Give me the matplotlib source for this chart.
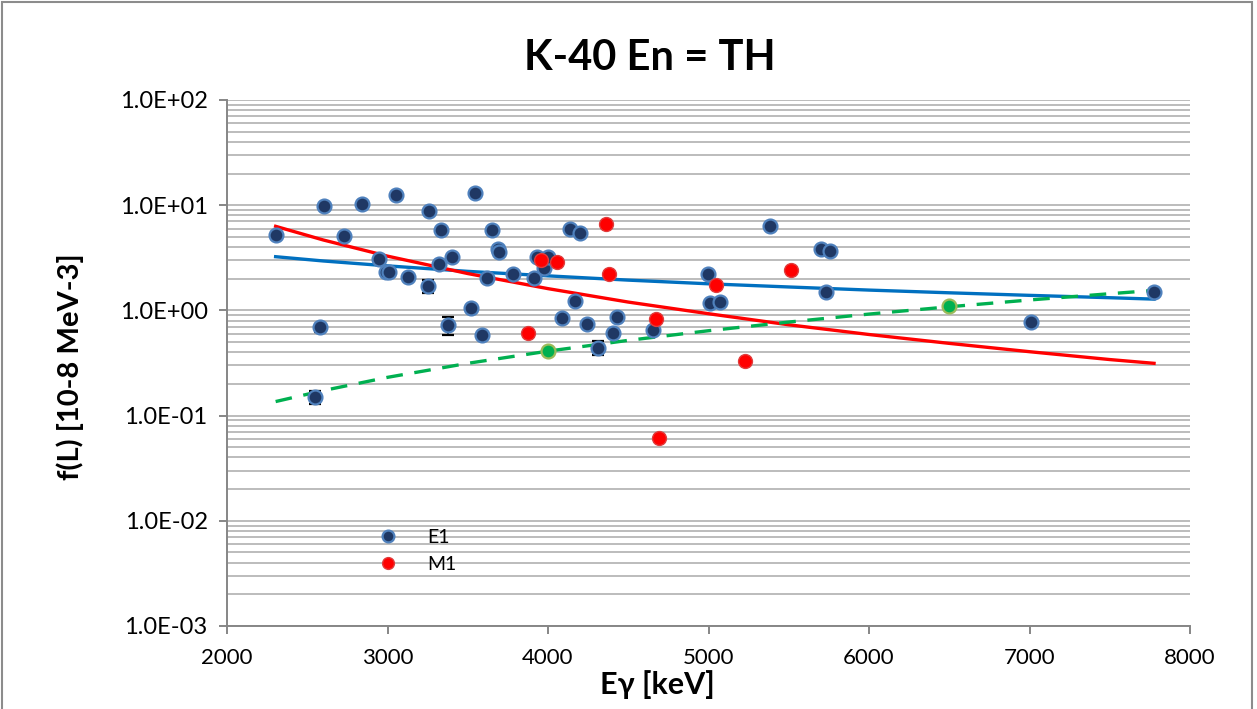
import numpy as np
import matplotlib
matplotlib.use('Agg')
import matplotlib.pyplot as plt
from matplotlib.ticker import LogLocator, FuncFormatter, NullFormatter
from matplotlib.patches import Rectangle

plt.rcParams['font.family'] = ['Lato', 'DejaVu Sans']

# E1 points (keV, f(L)) and error bars (lower, upper)
e1_x = [2305, 2550, 2579, 2606, 2731, 2839, 2945, 2989, 3009, 3053,
        3130, 3254, 3261, 3323, 3333, 3379, 3400, 3518, 3547, 3587,
        3618, 3651, 3691, 3695, 3780, 3913, 3930, 3975, 4002, 4085,
        4137, 4168, 4199, 4241, 4314, 4403, 4432, 4656, 4995, 5011,
        5074, 5383, 5701, 5732, 5757, 7007, 7776]
e1_y = [5.2, 0.150, 0.69, 9.8, 5.1, 10.2, 3.06, 2.33, 2.33, 12.5,
        2.09, 1.71, 8.8, 2.76, 5.75, 0.72, 3.2, 1.06, 13.1, 0.59,
        2.02, 5.75, 3.8, 3.6, 2.2, 2.02, 3.2, 2.55, 3.2, 0.85,
        6.0, 1.23, 5.5, 0.74, 0.44, 0.61, 0.86, 0.65, 2.2, 1.17,
        1.2, 6.3, 3.81, 1.51, 3.65, 0.78, 1.50]
e1_err_lo = [0.4, 0.02, 0.07, 0, 0, 0, 0, 0, 0, 0,
             0, 0.24, 0.5, 0, 0, 0.14, 0, 0, 0, 0,
             0, 0, 0.25, 0, 0, 0, 0, 0, 0, 0,
             0, 0, 0, 0, 0.06, 0, 0, 0, 0, 0,
             0, 0, 0, 0, 0, 0, 0]
e1_err_hi = [0.4, 0.02, 0.06, 0, 0, 0, 0, 0, 0, 0,
             0, 0.24, 0.5, 0, 0, 0.14, 0, 0, 0, 0,
             0, 0, 0.25, 0, 0, 0, 0, 0, 0, 0,
             0, 0, 0, 0, 0.07, 0, 0, 0, 0, 0,
             0, 0, 0, 0, 0, 0, 0]

# M1 points
m1_x = [3875, 3956, 4058, 4361, 4382, 4671, 4692, 5045, 5227, 5512]
m1_y = [0.605, 3.0, 2.88, 6.6, 2.2, 0.82, 0.061, 1.75, 0.33, 2.4]

# third series (green)
g_x = [4000, 6500]
g_y = [0.41, 1.10]

# trend lines
trend_x = [2303, 2600, 3000, 3500, 4000, 4500, 5000, 5500, 6000, 6500, 7000, 7500, 7776]
trend_e1 = [3.24, 2.95, 2.65, 2.35, 2.13, 1.94, 1.79, 1.67, 1.56, 1.47, 1.39, 1.32, 1.28]
trend_m1 = [6.3, 4.67, 3.28, 2.24, 1.61, 1.20, 0.93, 0.73, 0.59, 0.486, 0.405, 0.341, 0.314]
trend_g = [0.136, 0.173, 0.231, 0.314, 0.41, 0.519, 0.641, 0.775, 0.9225, 1.083, 1.256, 1.441, 1.549]

fig = plt.figure(figsize=(12.57, 7.09), dpi=100)
ax = fig.add_axes([227 / 1257, 1 - 626 / 709, (1190 - 227) / 1257, (626 - 100) / 709])

grid_c = '#bcbcbc'
axis_c = '#868686'

ax.set_yscale('log')
ax.set_xlim(2000, 8000)
ax.set_ylim(1e-3, 1e2)
ax.set_xticks([2000, 3000, 4000, 5000, 6000, 7000, 8000])
ax.yaxis.set_major_locator(LogLocator(base=10, numticks=10))
ax.yaxis.set_minor_locator(LogLocator(base=10, subs=np.arange(2, 10), numticks=20))
ax.yaxis.set_major_formatter(FuncFormatter(lambda v, p: f"{v:.1E}"))
ax.yaxis.set_minor_formatter(NullFormatter())
ax.grid(True, axis='y', which='both', color=grid_c, linewidth=1.4)
ax.set_axisbelow(True)

for s in ['top', 'right']:
    ax.spines[s].set_visible(False)
for s in ['left', 'bottom']:
    ax.spines[s].set_color(axis_c)
    ax.spines[s].set_linewidth(1.4)
ax.tick_params(axis='both', which='major', direction='out', length=6, width=1.4,
               color=axis_c, labelcolor='black')
ax.tick_params(axis='y', which='minor', length=0)
ax.tick_params(axis='x', pad=10, labelsize=16)
ax.tick_params(axis='y', pad=8, labelsize=17)

# trend lines
ax.plot(trend_x, trend_e1, color='#0070c0', linewidth=2.4, zorder=3)
ax.plot(trend_x, trend_m1, color='#ff0000', linewidth=2.4, zorder=3)
ax.plot(trend_x, trend_g, color='#00b050', linewidth=2.4, linestyle=(0, (5, 3.5)), zorder=3)

# points
ax.errorbar(e1_x, e1_y, yerr=[e1_err_lo, e1_err_hi], fmt='none', ecolor='black',
            elinewidth=1.2, capsize=4.5, capthick=1.6, zorder=4)
ax.plot(e1_x, e1_y, 'o', markersize=10, markerfacecolor='#1f3864',
        markeredgecolor='#4f81bd', markeredgewidth=1.6, label='E1', zorder=5)
ax.plot(m1_x, m1_y, 'o', markersize=10, markerfacecolor='#ff0000',
        markeredgecolor='#e03c3c', markeredgewidth=1.0, label='M1', zorder=5)
ax.plot(g_x, g_y, 'o', markersize=10, markerfacecolor='#00b050',
        markeredgecolor='#9bbb59', markeredgewidth=1.6, zorder=5)

fig.legend(loc='upper left', bbox_to_anchor=(369 / 1257, 1 - 529 / 709),
           frameon=False, fontsize=14, handlelength=2, handletextpad=1.0,
           labelspacing=0.5, borderpad=0, borderaxespad=0, markerscale=0.85)

fig.text(650 / 1257, 1 - 58 / 709, 'K-40 En = TH', ha='center', va='center',
         fontsize=30, fontweight='bold')
fig.text(70 / 1257, 1 - 367 / 709, 'f(L) [10-8 MeV-3]', ha='center', va='center',
         rotation=90, fontsize=21, fontweight='bold')
fig.text(657 / 1257, 1 - 685 / 709, 'Eγ [keV]', ha='center', va='center',
         fontsize=22, fontweight='bold')

# chart border
fig.patches.append(Rectangle((2 / 1257, -0.01), 1250 / 1257, 1.0 - 2 / 709 + 0.01,
                             transform=fig.transFigure, fill=False,
                             edgecolor='#8c8c8c', linewidth=1.5))

fig.savefig('out.png', dpi=100)
